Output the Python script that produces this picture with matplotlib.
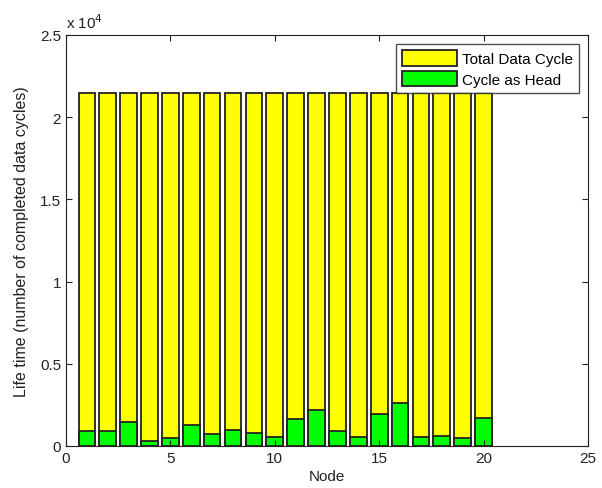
import matplotlib
matplotlib.use("Agg")
import matplotlib.pyplot as plt
import numpy as np

plt.rcParams["font.family"] = ["Liberation Sans", "DejaVu Sans"]

# data
nodes = list(range(1, 21))
total_cycle = [21500] * 20
head_cycle = [910, 910, 1440, 330, 470, 1300, 730, 1000, 790, 570,
              1660, 2170, 910, 570, 1970, 2610, 570, 630, 470, 1720]

fig = plt.figure(figsize=(6.02, 4.89), dpi=100)
ax = fig.add_axes([0.1096, 0.0859, 0.8671, 0.8405])

ax.bar(nodes, total_cycle, width=0.8, color="#ffff00", edgecolor="#222222",
       linewidth=1.3, label="Total Data Cycle")
ax.bar(nodes, head_cycle, width=0.8, color="#00ff00", edgecolor="#222222",
       linewidth=1.3, label="Cycle as Head")

ax.set_xlim(0, 25)
ax.set_ylim(0, 25000)
ax.set_xticks([0, 5, 10, 15, 20, 25])
ax.set_yticks([0, 5000, 10000, 15000, 20000, 25000])
ax.set_yticklabels(["0", "0.5", "1", "1.5", "2", "2.5"])
ax.tick_params(direction="in", top=True, right=True, length=4,
               labelsize=11, colors="#222222")
for s in ax.spines.values():
    s.set_color("#222222")

ax.text(0.0, 1.01, r"x 10$^4$", transform=ax.transAxes, fontsize=11,
        color="#222222", ha="left", va="bottom")

ax.set_xlabel("Node", fontsize=11, color="#222222", labelpad=3)
ax.set_ylabel("Life time (number of completed data cycles)", fontsize=11.5,
              color="#222222", labelpad=8)

leg = ax.legend(loc="upper right", fontsize=11, fancybox=False,
                edgecolor="#222222", borderaxespad=0.6, handlelength=3.6,
                handleheight=1.2, handletextpad=0.3, labelspacing=0.3)
leg.get_frame().set_linewidth(1.0)

fig.savefig("out.png", dpi=100)
